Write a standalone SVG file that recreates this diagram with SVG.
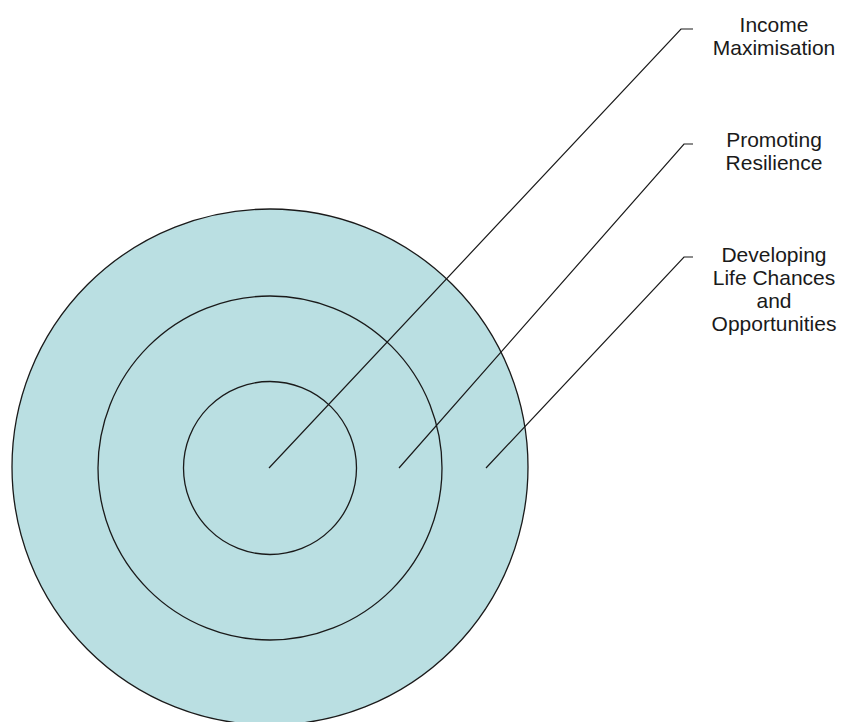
<svg xmlns="http://www.w3.org/2000/svg" width="843" height="722" viewBox="0 0 843 722">
<style>
.ring{fill:#BADFE2;stroke:#1a1a1a;stroke-width:1.3}
.ln{fill:none;stroke:#1a1a1a;stroke-width:1.2}
.lbl{font-family:"Liberation Sans",Arial,sans-serif;font-size:21px;fill:#1a1a1a;text-anchor:middle}
</style>
<rect width="843" height="722" fill="#ffffff"/>
<g id="outer"><circle class="ring" cx="270" cy="467" r="258"/></g>
<g id="middle"><circle class="ring" cx="270" cy="468" r="172"/></g>
<g id="inner"><circle class="ring" cx="270" cy="468" r="86.5"/></g>
<g id="connectors">
<polyline class="ln" points="269,468 681,29 693,29"/>
<polyline class="ln" points="399,468 684,144 693,144"/>
<polyline class="ln" points="486,468 684,257 693,257"/>
</g>
<g id="label-income"><text class="lbl" x="774" y="32">Income</text><text class="lbl" x="774" y="55">Maximisation</text></g>
<g id="label-resilience"><text class="lbl" x="774" y="147">Promoting</text><text class="lbl" x="774" y="170">Resilience</text></g>
<g id="label-life"><text class="lbl" x="774" y="262">Developing</text><text class="lbl" x="774" y="285">Life Chances</text><text class="lbl" x="774" y="308">and</text><text class="lbl" x="774" y="331">Opportunities</text></g>
</svg>
